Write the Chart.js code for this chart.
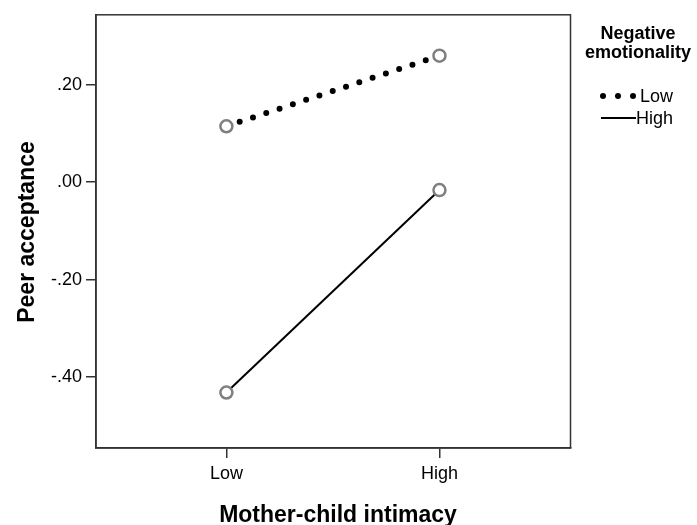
<!DOCTYPE html>
<html>
<head>
<meta charset="utf-8">
<script src="https://cdn.jsdelivr.net/npm/chart.js@4"></script>
<style>
  html, body { margin: 0; padding: 0; background: #fff; }
  #wrap { width: 697px; height: 525px; }
</style>
</head>
<body>
<div id="wrap"><canvas id="c" width="697" height="525"></canvas></div>
<script>
// ---- data ----
const xCategories = ['Low', 'High'];
const xPositions = [1, 2];
const lowNegEmo = [0.115, 0.26];
const highNegEmo = [-0.432, -0.016];
const yTickValues = [-0.4, -0.2, 0, 0.2];
const legendTitle = ['Negative', 'emotionality'];
const seriesNames = ['Low', 'High'];
const xTitle = 'Mother-child intimacy';
const yTitle = 'Peer acceptance';

const FONT = '"Liberation Sans", Arial, Helvetica, sans-serif';

function pts(vals) { return vals.map((v, i) => ({ x: xPositions[i], y: v })); }

const decorPlugin = {
  id: 'decor',
  afterDraw(chart) {
    const ctx = chart.ctx;
    const a = chart.chartArea;
    ctx.save();
    // frame
    ctx.strokeStyle = '#333';
    ctx.lineWidth = 1.5;
    ctx.strokeRect(a.left, a.top, a.right - a.left, a.bottom - a.top);
    // axis titles
    ctx.fillStyle = '#000';
    ctx.font = 'bold 23px ' + FONT;
    ctx.textAlign = 'center';
    ctx.textBaseline = 'alphabetic';
    ctx.fillText(xTitle, 338, 522);
    ctx.save();
    ctx.translate(34, 232);
    ctx.rotate(-Math.PI / 2);
    ctx.fillText(yTitle, 0, 0);
    ctx.restore();
    // legend
    ctx.font = 'bold 18px ' + FONT;
    ctx.fillText(legendTitle[0], 638, 39);
    ctx.fillText(legendTitle[1], 638, 58);
    ctx.font = '18px ' + FONT;
    ctx.textAlign = 'left';
    ctx.textBaseline = 'middle';
    // low: dots
    ctx.fillStyle = '#000';
    [603, 618, 633].forEach(x => {
      ctx.beginPath();
      ctx.arc(x, 96, 3, 0, Math.PI * 2);
      ctx.fill();
    });
    ctx.fillText(seriesNames[0], 640, 97);
    // high: line
    ctx.strokeStyle = '#000';
    ctx.lineWidth = 2;
    ctx.beginPath();
    ctx.moveTo(601, 118);
    ctx.lineTo(636, 118);
    ctx.stroke();
    ctx.fillText(seriesNames[1], 636, 119);
    ctx.restore();
  }
};

new Chart(document.getElementById('c'), {
  type: 'line',
  data: {
    datasets: [
      {
        label: seriesNames[0],
        data: pts(lowNegEmo),
        borderColor: '#000',
        borderWidth: 6,
        borderDash: [0, 14],
        borderCapStyle: 'round',
        pointRadius: 6,
        pointBorderWidth: 2.5,
        pointBorderColor: '#7f7f7f',
        pointBackgroundColor: '#fff',
        tension: 0
      },
      {
        label: seriesNames[1],
        data: pts(highNegEmo),
        borderColor: '#000',
        borderWidth: 2,
        pointRadius: 6,
        pointBorderWidth: 2.5,
        pointBorderColor: '#7f7f7f',
        pointBackgroundColor: '#fff',
        tension: 0
      }
    ]
  },
  options: {
    responsive: false,
    animation: false,
    layout: { padding: { left: 0, right: 126.5, top: 12, bottom: 0 } },
    plugins: { legend: { display: false }, tooltip: { enabled: false } },
    scales: {
      x: {
        type: 'linear',
        min: 0.388,
        max: 2.615,
        afterFit(s) { s.height = 77; },
        afterBuildTicks(s) { s.ticks = xPositions.map(v => ({ value: v })); },
        ticks: {
          color: '#000',
          padding: 5,
          maxRotation: 0,
          font: { family: FONT, size: 18 },
          callback(v) { const i = xPositions.indexOf(v); return i >= 0 ? xCategories[i] : ''; }
        },
        grid: { drawOnChartArea: false, drawTicks: true, tickLength: 10, color: '#333', lineWidth: 1.5 },
        border: { display: true, color: '#333', width: 1.5 }
      },
      y: {
        type: 'linear',
        min: -0.546,
        max: 0.344,
        afterFit(s) { s.width = 96; },
        afterBuildTicks(s) { s.ticks = yTickValues.map(v => ({ value: v })); },
        ticks: {
          color: '#000',
          padding: 4,
          font: { family: FONT, size: 18 },
          callback(v) { return Number(v).toFixed(2).replace('0.', '.'); }
        },
        grid: { drawOnChartArea: false, drawTicks: true, tickLength: 10, color: '#333', lineWidth: 1.5 },
        border: { display: true, color: '#333', width: 1.5 }
      }
    }
  },
  plugins: [decorPlugin]
});
</script>
</body>
</html>
